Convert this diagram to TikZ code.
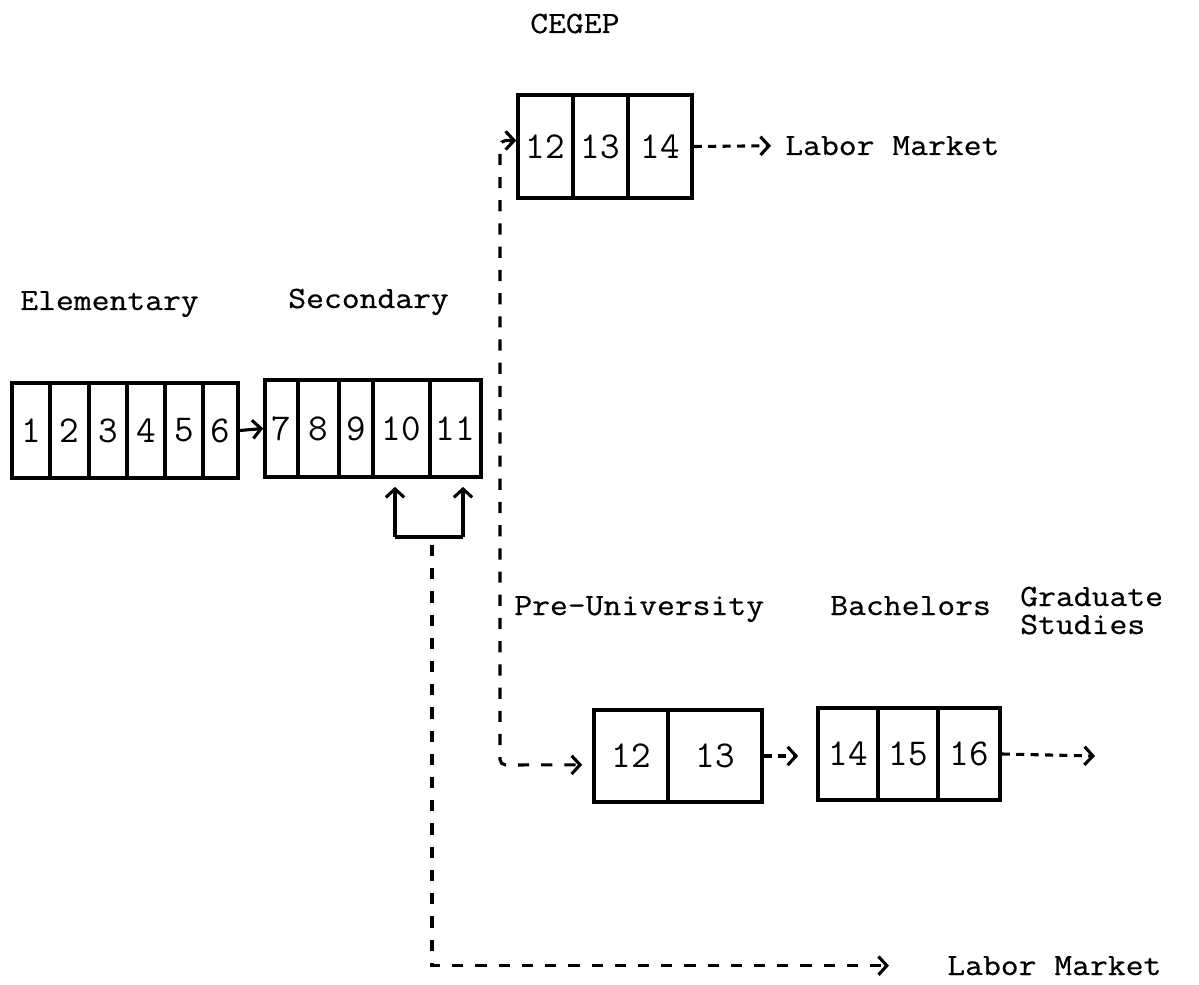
\documentclass[tikz,border=0pt]{standalone}
\usepackage{fontspec}
\usepackage{tikz}
\usetikzlibrary{arrows.meta,positioning,calc}
\newfontfamily\typew[FakeStretch=1.12,FakeBold=0.6]{Latin Modern Mono}

\begin{document}
\begin{tikzpicture}[x=0.025cm,y=-0.025cm,
    cell/.style={draw, line width=2.6pt, inner sep=0pt, font=\ttfamily\fontsize{27}{27}\selectfont},
    lbl/.style={inner sep=0pt, anchor=base west, font=\typew\fontsize{22}{22}\selectfont},
    flow/.style={line width=2.2pt, dash pattern=on 0.28cm off 0.3cm, -{Straight Barb[length=6pt,width=13pt]}},
    shortflow/.style={flow, dash pattern=on 0.2cm off 0.16cm},
    solidflow/.style={line width=2.2pt, -{Straight Barb[length=6pt,width=13pt]}}]
    \useasboundingbox (0,0) rectangle (1199,985);
    % school years as cells: left/right/centre y/height/text/name
    \foreach \l/\r/\y/\h/\t/\n in {12/50/430.5/95/1/e1, 50/89/430.5/95/2/e2, 89/127/430.5/95/3/e3,
        127/165/430.5/95/4/e4, 165/203/430.5/95/5/e5, 203/238/430.5/95/6/e6,
        265/298/428.5/97/7/s7, 298/339/428.5/97/8/s8, 339/373/428.5/97/9/s9,
        373/430/428.5/97/10/s10, 430/481/428.5/97/11/s11,
        518/573/146.5/103/12/c12, 573/628/146.5/103/13/c13, 628/692/146.5/103/14/c14,
        594/668/756/92/12/p12, 668/762/756/92/13/p13,
        818/878/754/92/14/b14, 878/938/754/92/15/b15, 938/1000/754/92/16/b16}
      \node[cell, minimum width={(\r-\l)*0.025cm}, minimum height={\h*0.025cm}] (\n) at ({(\l+\r)/2},\y) {\t};

    \node[lbl] (elem) at (20,310) {Elementary};
    \node[lbl] (sec) at (288,308) {Secondary};
    \node[lbl] (cegep) at (530,33) {CEGEP};
    \node[lbl] (lm1) at (785,155) {Labor Market};
    \node[lbl] (preu) at (514,615) {Pre-University};
    \node[lbl] (bach) at (830,615) {Bachelors};
    \node[lbl] (grad) at (1020,606) {Graduate};
    \node[lbl] (stud) at (1020,634) {Studies};
    \node[lbl] (lm2) at (947,975) {Labor Market};

    \draw[solidflow] (e6.east) -- (s7.west);

    % leaving after grade 10 or 11
    \coordinate (brL) at (395,537);
    \coordinate (brR) at (463,537);
    \coordinate (brM) at (432,537);
    \draw[line width=2.2pt] (brL) -- (brR);
    \draw[solidflow, shorten >=0.2cm] (brL) -- (brL |- s10.south);
    \draw[solidflow, shorten >=0.2cm] (brR) -- (brR |- s11.south);
    \draw[flow, shorten >=1.45cm] ([yshift=-0.2cm]brM) |- (lm2.west);

    \draw[flow, {Straight Barb[length=6pt,width=13pt]}-{Straight Barb[length=6pt,width=13pt]},
        rounded corners=4pt, shorten >=0.25cm] ([yshift=0.15cm]c12.west) -| (500,765) -- ([yshift=-0.22cm]p12.west);
    \draw[shortflow, shorten >=0.35cm] (c14.east) -- (lm1.west);
    \draw[shortflow, shorten >=0.45cm] (p13.east) -- (p13.east -| b14.west);
    \coordinate (gsend) at (1095,756);
    \draw[shortflow] (b16.east) -- (gsend);
\end{tikzpicture}
\end{document}
